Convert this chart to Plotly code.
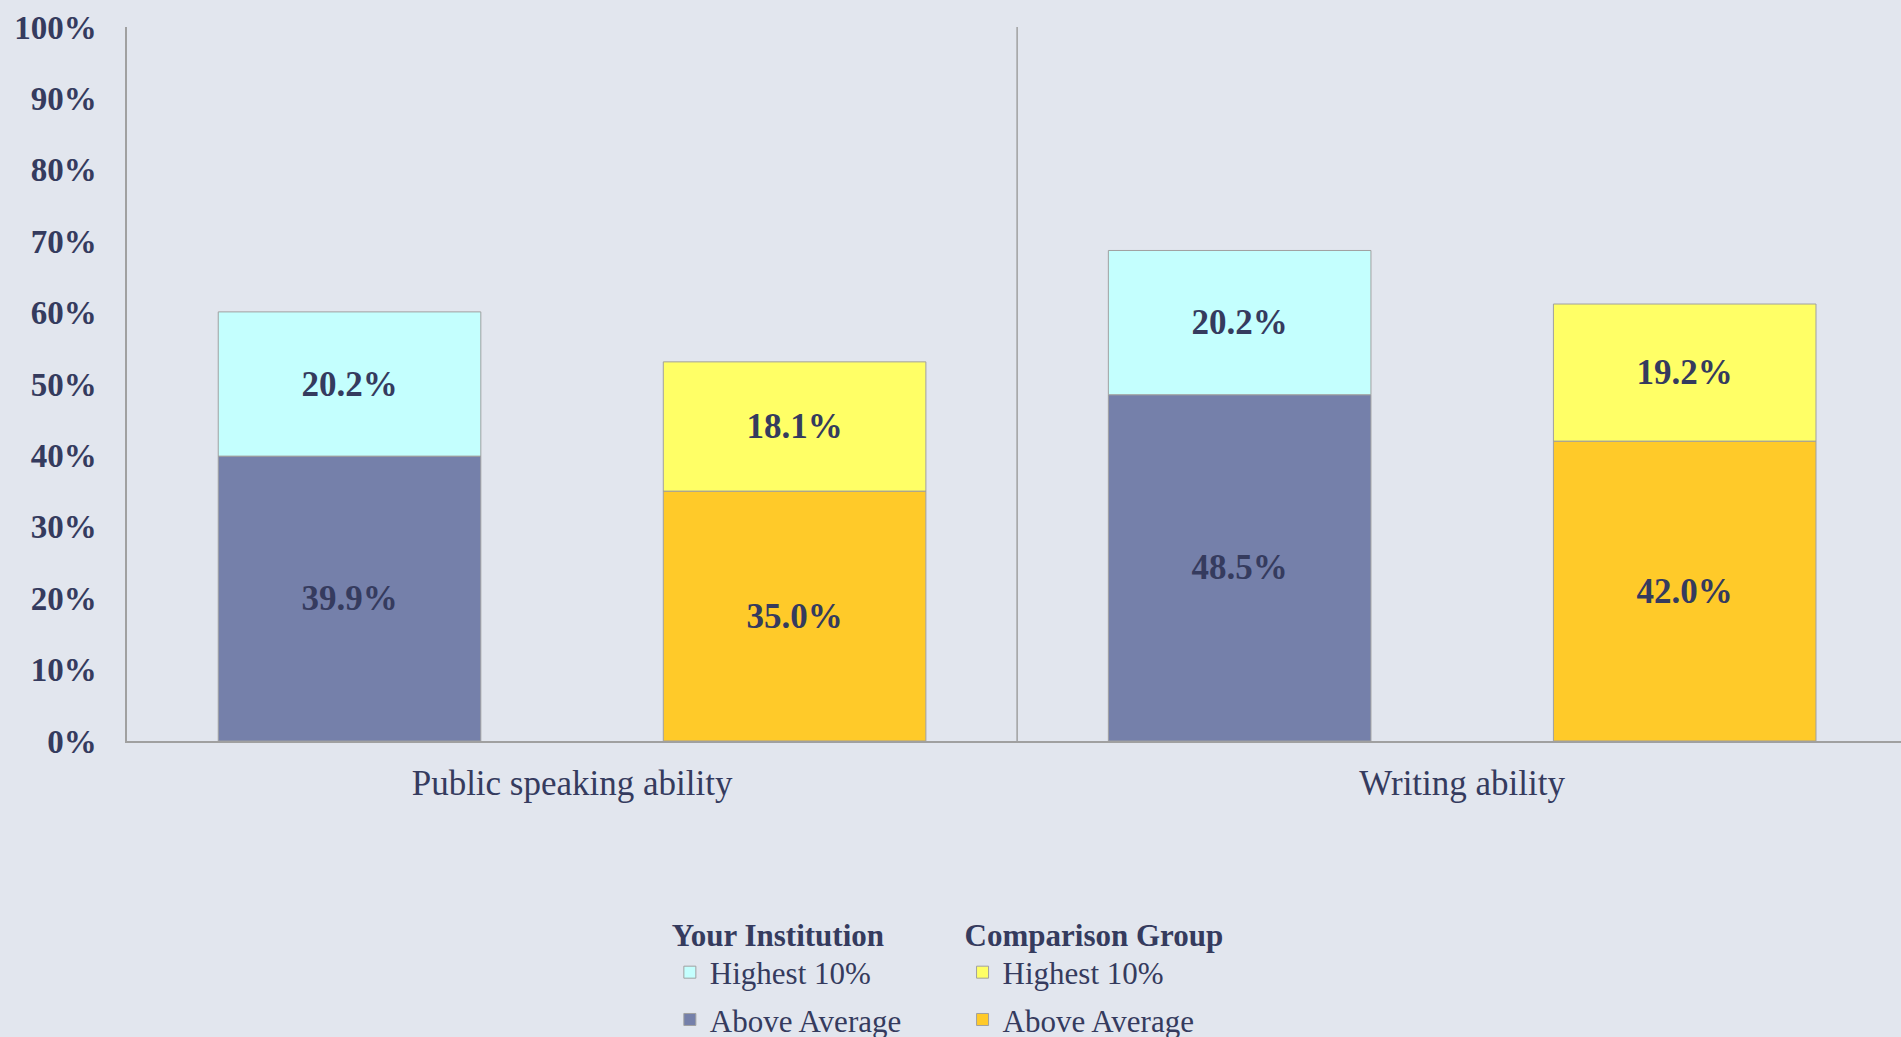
import plotly.graph_objects as go

# data
categories = ['Public speaking ability', 'Writing ability']
inst_above = [39.9, 48.5]
inst_high = [20.2, 20.2]
comp_above = [35.0, 42.0]
comp_high = [18.1, 19.2]
y_ticks = list(range(0, 101, 10))
y_labels = [f'{v}%' for v in y_ticks]

# colours / fonts
BG = '#E2E6EE'
TXT = '#353B5E'
LINE = '#A0A0A0'
FONT = 'Liberation Serif'

fig = go.Figure()

def add_stack(name_grp, above, high, c_above, c_high, legend):
    fig.add_trace(go.Bar(
        x=categories, y=above, name='Above Average', offsetgroup=name_grp,
        legendgroup=name_grp + '_above',
        marker=dict(color=c_above, line=dict(color=LINE, width=1)),
        texttemplate='%{y:.1f}%', textposition='inside', insidetextanchor='middle',
        textfont=dict(family=FONT, size=35, color=TXT, weight='bold'),
        legend=legend, legendrank=2))
    fig.add_trace(go.Bar(
        x=categories, y=high, base=above, name='Highest 10%', offsetgroup=name_grp,
        legendgroup=name_grp + '_high',
        marker=dict(color=c_high, line=dict(color=LINE, width=1)),
        texttemplate='%{y:.1f}%', textposition='inside', insidetextanchor='middle',
        textfont=dict(family=FONT, size=35, color=TXT, weight='bold'),
        legend=legend, legendrank=1))

add_stack('inst', inst_above, inst_high, '#7580AA', '#C4FFFE', 'legend')
add_stack('comp', comp_above, comp_high, '#FFCA29', '#FFFF66', 'legend2')

# divider between the two categories
fig.add_shape(type='line', xref='x', yref='paper', x0=0.5, x1=0.5, y0=0, y1=1,
              line=dict(color=LINE, width=1.5))

legend_common = dict(
    orientation='v', xanchor='left', yanchor='top', y=-0.230,
    bgcolor='rgba(0,0,0,0)', traceorder='grouped',
    font=dict(family=FONT, size=31, color=TXT),
    tracegroupgap=4, itemclick=False,
)

fig.update_layout(
    width=1901, height=1037,
    margin=dict(l=127, r=0, t=27, b=296, autoexpand=False),
    paper_bgcolor=BG, plot_bgcolor=BG,
    barmode='group', bargap=0, bargroupgap=0.41,
    font=dict(family=FONT, color=TXT),
    legend=dict(**legend_common, x=0.306,
                title=dict(text='Your Institution', font=dict(family=FONT, size=31, color=TXT, weight='bold'))),
    legend2=dict(**legend_common, x=0.471,
                 title=dict(text='Comparison Group', font=dict(family=FONT, size=31, color=TXT, weight='bold'))),
    xaxis=dict(showline=True, linecolor=LINE, linewidth=1.5, showgrid=False,
               tickfont=dict(family=FONT, size=35, color=TXT),
               ticks='', ticklabelstandoff=10, range=[-0.5, 1.493]),
    yaxis=dict(range=[0, 100], tickmode='array', tickvals=y_ticks, ticktext=y_labels,
               showline=True, linecolor=LINE, linewidth=1.5, showgrid=False, zeroline=False,
               tickfont=dict(family=FONT, size=33, color=TXT, weight='bold'),
               ticks='', ticklabelstandoff=22),
)

fig.write_html('out.html', config={'displayModeBar': False},
               post_script="document.body.style.margin='0';")
